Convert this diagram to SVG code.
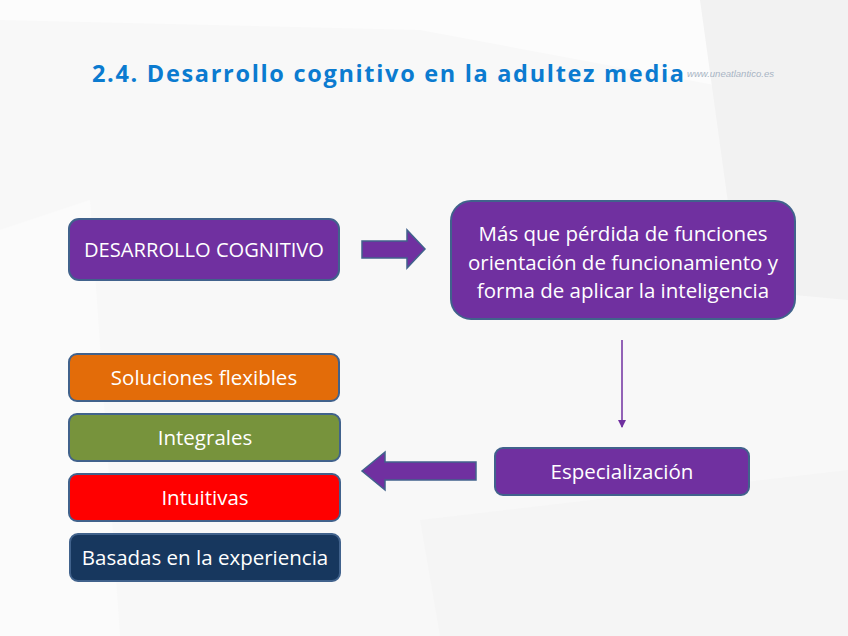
<svg xmlns="http://www.w3.org/2000/svg" width="848" height="636" viewBox="0 0 848 636">
<defs>
<style>
.node rect{stroke:#41628c;stroke-width:2}
.lbl{font-family:"Open Sans","Liberation Sans",sans-serif;font-size:20.5px;fill:#ffffff;text-anchor:middle}
.bigarrow{fill:#7030a0;stroke:#41628c;stroke-width:1.5}
</style>
<marker id="ah" markerWidth="8" markerHeight="8" refX="7" refY="4" orient="auto" markerUnits="userSpaceOnUse">
<path d="M0,0 L8,4 L0,8 Z" fill="#7030a0"/>
</marker>
</defs>
<rect width="848" height="636" fill="#f8f8f8"/>
<polygon points="0,0 848,0 848,110 420,30 0,20" fill="#fcfcfc"/>
<polygon points="700,0 848,0 848,300 740,290" fill="#f2f2f2"/>
<polygon points="0,230 90,200 120,636 0,636" fill="#fbfbfb"/>
<polygon points="420,520 848,470 848,636 440,636" fill="#f5f5f5"/>
<text x="92" y="82" font-family="Open Sans, Liberation Sans, sans-serif" font-weight="bold" font-size="23.5" fill="#0b7bd0" textLength="592" lengthAdjust="spacing">2.4. Desarrollo cognitivo en la adultez media</text>
<text x="687" y="77" font-family="Liberation Sans, sans-serif" font-style="italic" font-size="9" fill="#a8b4c4" textLength="87" lengthAdjust="spacingAndGlyphs">www.uneatlantico.es</text>
<g id="connectors">
<polygon class="bigarrow" points="362,241 407,241 407,230 425,249 407,268 407,258 362,258"/>
<line x1="622" y1="340" x2="622" y2="427" stroke="#7030a0" stroke-width="1.5" marker-end="url(#ah)"/>
<polygon class="bigarrow" points="476,462 385,462 385,452 362,471 385,490 385,480 476,480"/>
</g>
<g id="desarrollo" class="node"><rect x="69" y="219" width="270" height="61" rx="10" fill="#7030a0"/><text class="lbl" x="204" y="257" textLength="240" lengthAdjust="spacingAndGlyphs">DESARROLLO COGNITIVO</text></g>
<g id="mas" class="node"><rect x="451" y="201" width="344" height="118" rx="20" fill="#7030a0"/>
<text class="lbl" x="623" y="241">Más que pérdida de funciones</text>
<text class="lbl" x="623" y="270">orientación de funcionamiento y</text>
<text class="lbl" x="623" y="298">forma de aplicar la inteligencia</text></g>
<g id="especializacion" class="node"><rect x="495" y="448" width="254" height="47" rx="8" fill="#7030a0"/><text class="lbl" x="622" y="479">Especialización</text></g>
<g id="soluciones" class="node"><rect x="69" y="354" width="270" height="47" rx="8" fill="#e36c09"/><text class="lbl" x="204" y="385">Soluciones flexibles</text></g>
<g id="integrales" class="node"><rect x="69" y="414" width="271" height="47" rx="8" fill="#77933c"/><text class="lbl" x="205" y="445">Integrales</text></g>
<g id="intuitivas" class="node"><rect x="69" y="474" width="271" height="47" rx="8" fill="#ff0000"/><text class="lbl" x="205" y="505">Intuitivas</text></g>
<g id="basadas" class="node"><rect x="70" y="534" width="270" height="47" rx="8" fill="#17375e"/><text class="lbl" x="205" y="565">Basadas en la experiencia</text></g>
</svg>
